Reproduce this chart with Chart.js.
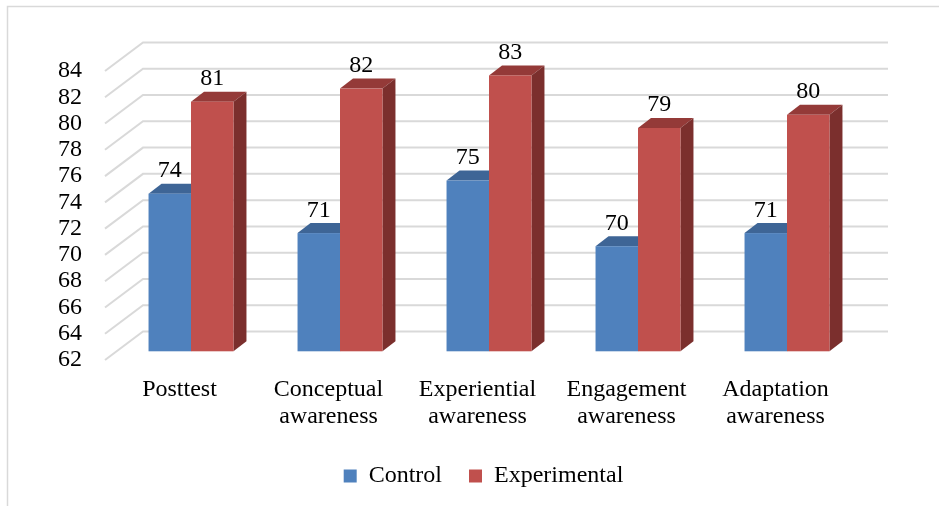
<!DOCTYPE html>
<html>
<head>
<meta charset="utf-8">
<script src="https://cdn.jsdelivr.net/npm/chart.js@4.4.1/dist/chart.umd.min.js"></script>
<style>
  html, body { margin: 0; padding: 0; background: #fff; }
  canvas { display: block; }
</style>
</head>
<body>
<canvas id="chart" width="939" height="506"></canvas>
<script>
const categories = [
  ['Posttest'],
  ['Conceptual', 'awareness'],
  ['Experiential', 'awareness'],
  ['Engagement', 'awareness'],
  ['Adaptation', 'awareness']
];
const controlScores = [74, 71, 75, 70, 71];
const experimentalScores = [81, 82, 83, 79, 80];
const yMin = 62;
const yMax = 84;
const yStep = 2;

// fake 3d offsets (pixels)
const wallDepth = { x: 38, y: -28.5 };
const barShift = { x: 11.5, y: -8.7 };
const barDepth = { x: 13, y: -10 };
const faceColors = [
  { front: '#4F81BD', top: '#3E6596', side: '#2F4F77' },
  { front: '#C0504D', top: '#943A38', side: '#7B2F2D' }
];
const FONT = 'Liberation Serif';

const chart3d = {
  id: 'chart3d',
  beforeDraw(chart) {
    const { ctx, chartArea: area } = chart;
    const y = chart.scales.y;
    ctx.save();
    ctx.fillStyle = '#fff';
    ctx.fillRect(0, 0, chart.width, chart.height);

    ctx.strokeStyle = '#d9d9d9';
    ctx.lineWidth = 1.5;
    ctx.beginPath();
    ctx.moveTo(7.5, chart.height);
    ctx.lineTo(7.5, 6.5);
    ctx.lineTo(chart.width, 6.5);
    ctx.stroke();

    ctx.lineWidth = 2;
    y.ticks.forEach(t => {
      const py = y.getPixelForValue(t.value);
      ctx.beginPath();
      ctx.moveTo(area.left, py);
      ctx.lineTo(area.left + wallDepth.x, py + wallDepth.y);
      ctx.lineTo(area.right + wallDepth.x, py + wallDepth.y);
      ctx.stroke();
    });
    ctx.restore();
  },
  beforeDatasetsDraw(chart) {
    const { ctx } = chart;
    const datasets = chart.data.datasets;
    ctx.save();
    categories.forEach((cat, index) => {
      datasets.forEach((ds, di) => {
        const bar = chart.getDatasetMeta(di).data[index];
        const { x, y, base, width } = bar.getProps(['x', 'y', 'base', 'width'], true);
        const colors = faceColors[di];
        const left = x - width / 2 + barShift.x;
        const right = left + width;
        const top = y + barShift.y;
        const bottom = base + barShift.y;

        ctx.fillStyle = colors.top;
        ctx.beginPath();
        ctx.moveTo(left, top);
        ctx.lineTo(left + barDepth.x, top + barDepth.y);
        ctx.lineTo(right + barDepth.x, top + barDepth.y);
        ctx.lineTo(right, top);
        ctx.closePath();
        ctx.fill();

        ctx.fillStyle = colors.side;
        ctx.beginPath();
        ctx.moveTo(right, top);
        ctx.lineTo(right + barDepth.x, top + barDepth.y);
        ctx.lineTo(right + barDepth.x, bottom + barDepth.y);
        ctx.lineTo(right, bottom);
        ctx.closePath();
        ctx.fill();

        ctx.fillStyle = colors.front;
        ctx.fillRect(left, top, width, bottom - top);

        ctx.fillStyle = '#000';
        ctx.font = '24px "' + FONT + '"';
        ctx.textAlign = 'center';
        ctx.textBaseline = 'alphabetic';
        ctx.fillText(String(ds.data[index]), x + barShift.x, top + barDepth.y - 6.5);
      });
    });
    ctx.restore();
    return false;
  }
};

new Chart(document.getElementById('chart'), {
  type: 'bar',
  data: {
    labels: categories,
    datasets: [
      { label: 'Control', data: controlScores, base: yMin, backgroundColor: faceColors[0].front, borderWidth: 0 },
      { label: 'Experimental', data: experimentalScores, base: yMin, backgroundColor: faceColors[1].front, borderWidth: 0 }
    ]
  },
  options: {
    responsive: false,
    animation: false,
    categoryPercentage: 0.57,
    barPercentage: 1,
    layout: { padding: { left: 28, right: 0, top: 71, bottom: 9 } },
    scales: {
      x: {
        grid: { display: false, drawTicks: false },
        border: { display: false },
        ticks: {
          color: '#000',
          font: { family: FONT, size: 24, lineHeight: 1.14 },
          padding: 16,
          maxRotation: 0,
          autoSkip: false
        },
        afterFit(scale) { scale.height = 77; }
      },
      y: {
        min: yMin,
        max: yMax,
        grid: { display: false, drawTicks: false },
        border: { display: false },
        ticks: { stepSize: yStep, autoSkip: false, color: '#000', font: { family: FONT, size: 24 }, padding: 23 },
        afterFit(scale) { scale.width = 77; }
      },
      yRight: {
        position: 'right',
        grid: { display: false, drawTicks: false },
        border: { display: false },
        ticks: { display: false },
        afterFit(scale) { scale.width = 89; }
      }
    },
    plugins: {
      legend: {
        position: 'bottom',
        maxHeight: 60,
        labels: {
          boxWidth: 13,
          boxHeight: 13,
          padding: 27,
          color: '#000',
          font: { family: FONT, size: 24 }
        }
      },
      tooltip: { enabled: false }
    }
  },
  plugins: [chart3d]
});
</script>
</body>
</html>
